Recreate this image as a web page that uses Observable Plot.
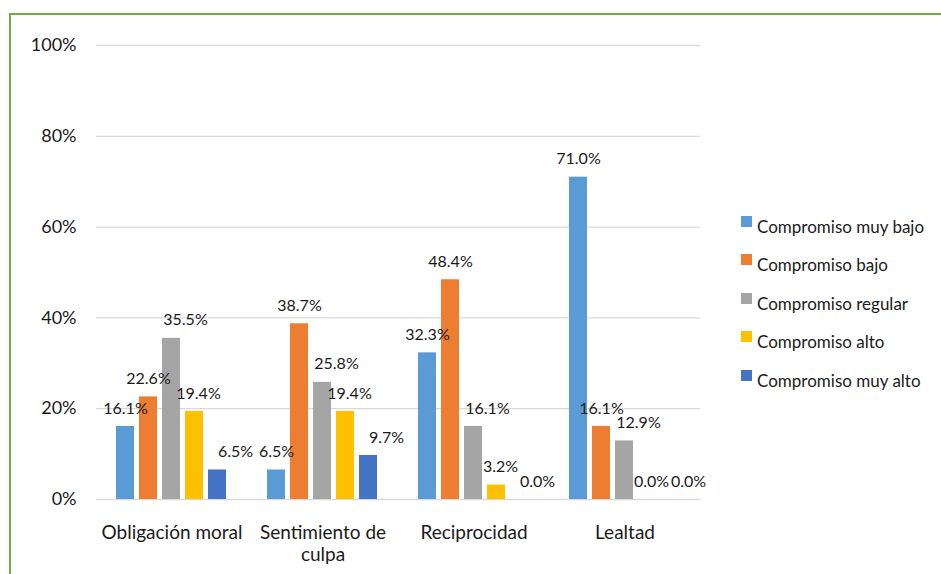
<!DOCTYPE html>
<html>
<head>
<meta charset="utf-8">
<script src="https://cdn.jsdelivr.net/npm/d3@7"></script>
<script src="https://cdn.jsdelivr.net/npm/@observablehq/plot@0.6"></script>
<style>
  html, body { margin: 0; padding: 0; background: #fff; }
  #wrap { position: relative; width: 941px; height: 574px; overflow: hidden; font-family: Lato, "Noto Sans", sans-serif; }
  #frame { position: absolute; left: 9px; top: 13px; width: 960px; height: 600px; border-top: 2px solid #70ad47; border-left: 2px solid #70ad47; box-sizing: border-box; }
  #chart { position: absolute; left: 0; top: 0; }
  #legend { position: absolute; left: 741px; top: 207px; font-size: 17px; color: #1a1a1a; }
  .row { display: flex; align-items: center; height: 38.5px; }
  .sw { width: 11px; height: 11px; margin-right: 5px; position: relative; top: -5px; }
</style>
</head>
<body>
<div id="wrap">
  <div id="frame"></div>
  <div id="chart"></div>
  <div id="legend"></div>
</div>
<script>
const categories = ["Obligación moral", "Sentimiento de culpa", "Reciprocidad", "Lealtad"];
const series = ["Compromiso muy bajo", "Compromiso bajo", "Compromiso regular", "Compromiso alto", "Compromiso muy alto"];
const colors = ["#5b9bd5", "#ed7d31", "#a5a5a5", "#ffc000", "#4472c4"];
const muyBajo = [16.1, 6.5, 32.3, 71.0];
const bajo = [22.6, 38.7, 48.4, 16.1];
const regular = [35.5, 25.8, 16.1, 12.9];
const alto = [19.4, 19.4, 3.2, 0.0];
const muyAlto = [6.5, 9.7, 0.0, 0.0];
const yTicks = [0, 20, 40, 60, 80, 100];

const seriesValues = [muyBajo, bajo, regular, alto, muyAlto];
const data = [];
categories.forEach((c, i) => {
  series.forEach((s, j) => {
    data.push({category: c, series: s, value: seriesValues[j][i]});
  });
});

// horizontal nudge of value labels per series (style, keeps labels from colliding)
const labelNudge = [0, 0, 14, 4, 18];
const labelMarks = series.map((s, j) =>
  Plot.text(data.filter(d => d.series === s), {
    fx: "category", x: "series", y: "value",
    text: d => d.value.toFixed(1) + "%",
    dy: -18, dx: labelNudge[j], fontSize: 16, fill: "#1a1a1a"
  })
);

const chart = Plot.plot({
  width: 720,
  height: 574,
  marginLeft: 95,
  marginRight: 20,
  marginTop: 45,
  marginBottom: 75,
  style: {fontFamily: "Lato, 'Noto Sans', sans-serif", background: "transparent", overflow: "visible"},
  fx: {domain: categories, padding: 0, label: null},
  x: {domain: series, paddingInner: 0.2, paddingOuter: 0.845, axis: null},
  y: {domain: [0, 100], label: null},
  color: {domain: series, range: colors},
  marks: [
    Plot.ruleY(yTicks, {stroke: "#d9d9d9", strokeWidth: 1.3}),
    Plot.barY(data, {fx: "category", x: "series", y: "value", fill: "series"}),
    ...labelMarks,
    Plot.axisY({ticks: yTicks, tickFormat: d => d + "%", tickSize: 0, tickPadding: 20, fontSize: 18, fill: "#1a1a1a", label: null}),
    Plot.axisFx({anchor: "bottom", tickSize: 0, tickPadding: 24, fontSize: 19, lineHeight: 1.15, fill: "#1a1a1a", label: null,
      tickFormat: d => d === "Sentimiento de culpa" ? "Sentimiento de\nculpa" : d, lineAnchor: "top"})
  ]
});
document.getElementById("chart").appendChild(chart);

const legend = document.getElementById("legend");
series.forEach((s, i) => {
  const row = document.createElement("div");
  row.className = "row";
  const sw = document.createElement("div");
  sw.className = "sw";
  sw.style.background = colors[i];
  const t = document.createElement("span");
  t.textContent = s;
  row.appendChild(sw);
  row.appendChild(t);
  legend.appendChild(row);
});
</script>
</body>
</html>
